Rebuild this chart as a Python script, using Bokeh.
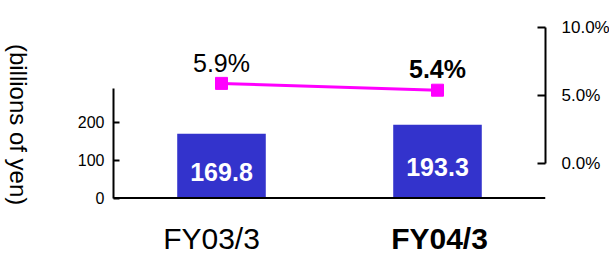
import math
from bokeh.plotting import figure
from bokeh.layouts import row
from bokeh.models import (LinearAxis, Range1d, FixedTicker, PrintfTickFormatter,
                          Span, ColumnDataSource)
from bokeh.core.properties import value
from bokeh.embed import file_html
from bokeh.resources import INLINE

# ---- data ----
categories = ["FY03/3", "FY04/3"]
sales = [169.8, 193.3]            # billions of yen
margin_pct = [5.9, 5.4]           # %
sales_labels = ["169.8", "193.3"]
pct_labels = ["5.9%", "5.4%"]
left_ticks = [0, 100, 200]
right_ticks = [0, 5, 10]
y_title = "(billions of yen)"

FONT = "Liberation Sans"
xpos = [i + 0.5 for i in range(len(categories))]

# ---- geometry (pixels) ----
H = 260
title_w = 40
frame_h = 234
top_to_zero_l = 171.5
ppu_l = 0.379
top_to_zero_r = 137.3
ppu_r = 13.63

# narrow panel holding the rotated y-axis title
t = figure(width=title_w, height=H, x_range=Range1d(0, title_w), y_range=Range1d(0, H),
           min_border=0, x_axis_location=None, y_axis_location=None,
           toolbar_location=None, output_backend="svg")
t.xgrid.visible = False
t.ygrid.visible = False
t.outline_line_color = None
t.text(x=[18], y=[H - 109], text=[y_title], angle=-math.pi / 2,
       text_font=value(FONT), text_font_size="24px", text_color="black",
       text_align="center", text_baseline="middle")

p = figure(frame_width=432, frame_height=frame_h, min_border_left=113 - title_w,
           min_border_right=64, min_border_top=H - frame_h, min_border_bottom=0,
           x_range=Range1d(0, 2),
           y_range=Range1d(-(frame_h - top_to_zero_l) / ppu_l, top_to_zero_l / ppu_l),
           x_axis_location=None, y_axis_location=None,
           toolbar_location=None, output_backend="svg")
p.xgrid.visible = False
p.ygrid.visible = False
p.outline_line_color = None
p.background_fill_color = "white"
p.border_fill_color = "white"

p.extra_y_ranges = {"pct": Range1d(-(frame_h - top_to_zero_r) / ppu_r, top_to_zero_r / ppu_r)}

# left axis
la = LinearAxis(bounds=(0, 290), ticker=FixedTicker(ticks=left_ticks))
la.major_tick_in = 6
la.major_tick_out = 0
la.minor_tick_line_color = None
la.axis_line_width = 2
la.major_tick_line_width = 2
la.major_label_standoff = 9
la.major_label_text_font = FONT
la.major_label_text_font_size = "16px"
la.major_label_text_color = "black"
p.add_layout(la, "left")

# right axis
ra = LinearAxis(y_range_name="pct", bounds=(0, 10), ticker=FixedTicker(ticks=right_ticks),
                formatter=PrintfTickFormatter(format="%.1f%%"))
ra.major_tick_in = 8
ra.major_tick_out = 0
ra.minor_tick_line_color = None
ra.axis_line_width = 2
ra.major_tick_line_width = 2
ra.major_label_standoff = 16
ra.major_label_text_font = FONT
ra.major_label_text_font_size = "17px"
ra.major_label_text_color = "black"
p.add_layout(ra, "right")

# baseline
p.add_layout(Span(location=0, dimension="width", line_color="black", line_width=2))

# bars
src = ColumnDataSource(dict(x=xpos, sales=sales, half=[s / 2 for s in sales],
                            lab=sales_labels, pct=margin_pct))
p.vbar(x="x", top="sales", bottom=0, width=0.41, source=src,
       fill_color="#3333cc", line_color=None)
p.text(x="x", y="half", text="lab", source=src, text_color="white",
       text_font=value(FONT), text_font_style="bold", text_font_size="25px",
       text_align="center", text_baseline="middle", y_offset=6)

# margin line
p.line(x="x", y="pct", source=src, y_range_name="pct", line_color="#ff00ff", line_width=3)
p.scatter(x="x", y="pct", source=src, y_range_name="pct", marker="square", size=12,
          fill_color="#ff00ff", line_color="#ff00ff")

# pct labels
p.text(x=xpos[:1], y=margin_pct[:1], text=pct_labels[:1], y_range_name="pct",
       text_font=value(FONT), text_font_size="25px", text_color="black",
       text_align="center", text_baseline="alphabetic", y_offset=-20)
p.text(x=xpos[1:], y=margin_pct[1:], text=pct_labels[1:], y_range_name="pct",
       text_font=value(FONT), text_font_style="bold", text_font_size="25px",
       text_color="black", text_align="center", text_baseline="alphabetic", y_offset=-21)

# category labels
p.text(x=xpos[:1], y=[0], text=categories[:1], text_font=value(FONT),
       text_font_size="30px", text_color="black", text_align="center",
       text_baseline="alphabetic", y_offset=40, x_offset=-10)
p.text(x=xpos[1:], y=[0], text=categories[1:], text_font=value(FONT),
       text_font_style="bold", text_font_size="30px", text_color="black",
       text_align="center", text_baseline="alphabetic", y_offset=40, x_offset=2)

layout = row(t, p, spacing=0)
open("out.html", "w").write(file_html(layout, INLINE))
